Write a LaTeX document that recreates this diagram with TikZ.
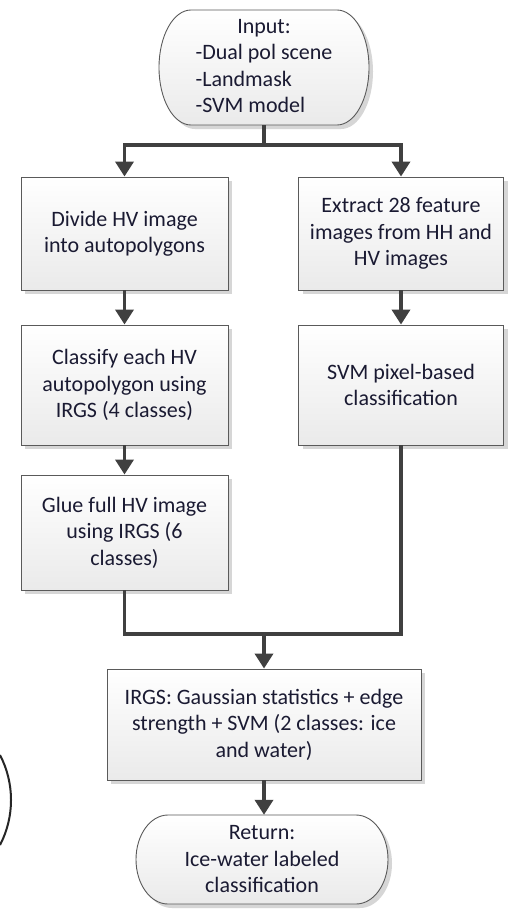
\documentclass[tikz,border=0pt]{standalone}
\usepackage{fontspec}
\setmainfont{Carlito}
\usetikzlibrary{arrows.meta,shadows}
\definecolor{txt}{RGB}{26,26,50}
\definecolor{edgec}{RGB}{90,90,90}
\definecolor{conn}{RGB}{64,64,64}
\definecolor{shd}{RGB}{214,214,214}
\definecolor{lowfill}{RGB}{234,234,234}
\begin{document}
\begin{tikzpicture}[x=1pt,y=1pt,
  every node/.style={font=\fontsize{22}{26.5}\selectfont, text=txt},
  stepbox/.style={draw=edgec, line width=0.9pt, top color=white, bottom color=lowfill,
    drop shadow={shadow xshift=4pt, shadow yshift=-4pt, fill=shd, opacity=1},
    align=center, inner sep=0pt},
  termshape/.style={draw=edgec, line width=0.9pt, top color=white, bottom color=lowfill,
    drop shadow={shadow xshift=4pt, shadow yshift=-4pt, fill=shd, opacity=1}},
  conn/.style={draw=conn, line width=3.6pt},
  arr/.style={conn, -{Triangle[length=15pt,width=18pt]}}
]
\useasboundingbox (0,0) rectangle (510,-910);
\fill[white] (0,0) rectangle (510,-910);

% Input terminator
\path[termshape] (191,-10) -- (337,-10) arc[start angle=90, end angle=-90, x radius=32, y radius=57.5]
  -- (191,-125) arc[start angle=270, end angle=90, x radius=32, y radius=57.5] -- cycle;
\node[minimum width=210pt, minimum height=115pt, inner sep=0pt] (in) at (264,-67.5)
  {\begin{tabular}{@{}l@{}}\multicolumn{1}{@{}c@{}}{Input:}\\-Dual pol scene\\-Landmask\\-SVM model\end{tabular}};

% Return terminator
\path[termshape] (168,-815) -- (356,-815) arc[start angle=90, end angle=-90, x radius=32, y radius=44.5]
  -- (168,-904) arc[start angle=270, end angle=90, x radius=32, y radius=44.5] -- cycle;
\node[minimum width=252pt, minimum height=89pt, inner sep=0pt, align=center] (ret) at (262,-859.5)
  {Return:\\Ice-water labeled\\classification};

% Process boxes
\node[stepbox, minimum width=207pt, minimum height=113pt] (b1) at (124.5,-233.5)
  {Divide HV image\\into autopolygons};
\node[stepbox, minimum width=207pt, minimum height=120pt] (b2) at (124.5,-385)
  {Classify each HV\\autopolygon using\\IRGS (4 classes)};
\node[stepbox, minimum width=207pt, minimum height=115pt] (b3) at (124.5,-532.5)
  {Glue full HV image\\using IRGS (6\\classes)};
\node[stepbox, minimum width=205pt, minimum height=113pt] (r1) at (401,-233.5)
  {Extract 28 feature\\images from HH and\\HV images};
\node[stepbox, minimum width=205pt, minimum height=120pt] (r2) at (401,-385)
  {SVM pixel-based\\classification};
\node[stepbox, minimum width=314pt, minimum height=111pt] (fin) at (264,-724.5)
  {IRGS: Gaussian statistics + edge\\strength + SVM (2 classes: ice\\and water)};

% Connectors
\coordinate (split) at (264,-145);
\coordinate (merge) at (264,-634);
\draw[conn] (in.south) -- (split);
\draw[arr] (split) -| (b1.north);
\draw[arr] (split) -| (r1.north);
\draw[arr] (b1.south) -- (b2.north);
\draw[arr] (b2.south) -- (b3.north);
\draw[arr] (r1.south) -- (r2.north);
\draw[conn] (b3.south) |- (merge);
\draw[conn] (r2.south) |- (merge);
\draw[arr] (merge) -- (fin.north);
\draw[arr] (fin.south) -- (fin.south |- ret.north);

% partial arc at left edge
\draw[line width=2pt, black!85] (0,-755) arc[start angle=27.5, end angle=-27.5, radius=97.5];
\end{tikzpicture}
\end{document}
